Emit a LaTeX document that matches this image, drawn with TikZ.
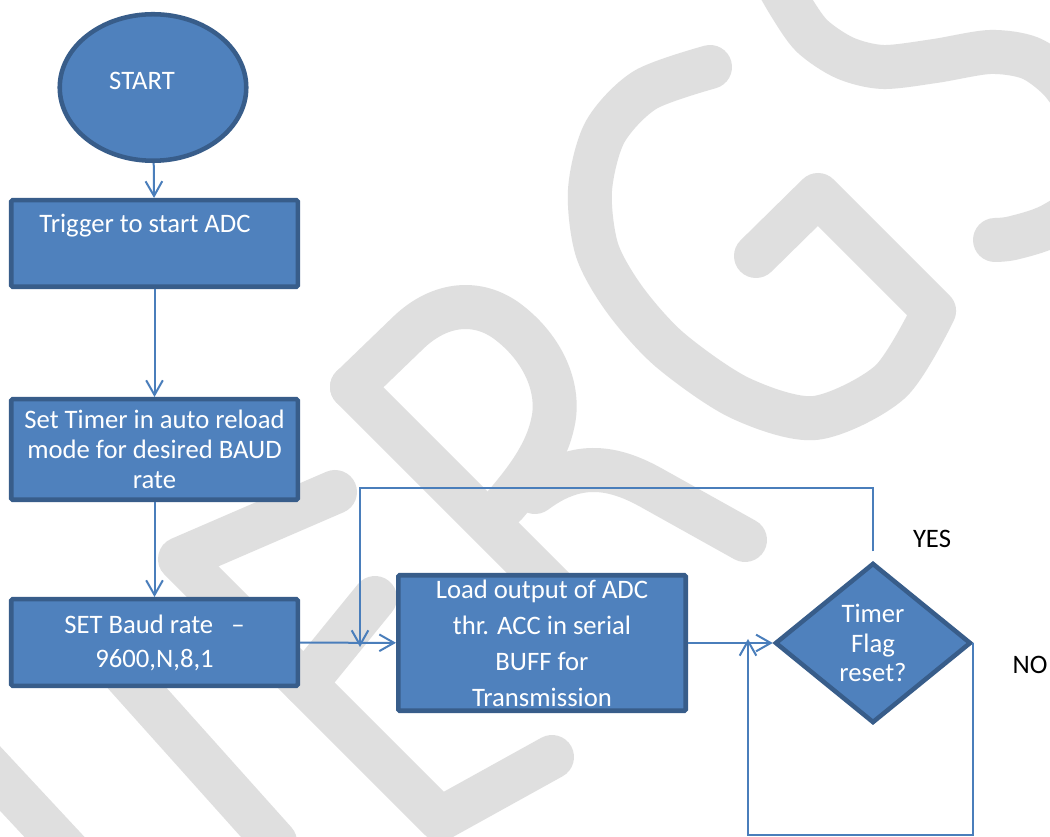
\documentclass[tikz,border=0pt]{standalone}
\usepackage{fontspec}
\setmainfont{Carlito}
\usepackage{tikz}
\usetikzlibrary{arrows.meta,shapes.geometric}
\definecolor{offill}{RGB}{79,129,189}
\definecolor{ofborder}{RGB}{56,93,138}
\definecolor{ofline}{RGB}{74,126,187}
\definecolor{wmgray}{RGB}{223,223,223}

\begin{document}
\begin{tikzpicture}[
    x=0.75pt, y=-0.75pt,
    term/.style={ellipse, draw=ofborder, fill=offill, line width=3.4pt,
                 minimum width=139.9pt, minimum height=109.9pt, inner sep=0pt},
    box/.style={rectangle, draw=ofborder, fill=offill, line width=3.4pt,
                rounded corners=1pt, minimum width=214.9pt, inner sep=2pt,
                align=center, text=white, font=\fontsize{20}{22.5}\selectfont},
    test/.style={diamond, draw=ofborder, fill=offill, line width=3.4pt,
                 minimum width=147pt, minimum height=120pt, aspect=1.2,
                 inner sep=0pt, align=center, text=white,
                 font=\fontsize{20}{22}\selectfont},
    lbl/.style={anchor=base, inner sep=0pt, font=\fontsize{20}{22.5}\selectfont},
    arrow/.style={-{Straight Barb[length=11pt,width=12.5pt]}, line width=1.5pt, draw=ofline},
    wm/.style={draw=wmgray, line width=33pt, line cap=round, line join=round}
]
\useasboundingbox (0,0) rectangle (1050,837);
\fill[white] (0,0) rectangle (1050,837);
\begin{scope}
\clip (0,0) rectangle (1050,837);
\draw[wm] (-20,757) -- (75,859);
\draw[wm] (95,641) -- (275,842);
\draw[wm] (335,492) -- (180,559) -- (440,819) -- (552,757);
\draw[wm] (305,684) -- (375,598);
\draw[wm] (352,387) -- (650,685);
\draw[wm] (352,387) -- (408,333) .. controls (440,302) and (480,298) .. (512,325)
    .. controls (545,352) and (560,390) .. (553,422)
    .. controls (547,452) and (528,478) .. (505,505);
\draw[wm] (535,492) .. controls (575,462) and (610,465) .. (650,487) -- (745,540);
\draw[wm] plot[smooth] coordinates {(710,67) (645,90) (605,132) (590,190) (597,250)
    (625,300) (670,350) (740,398) (815,418) (890,382) (934,311)}
    -- (818,195) -- (756,256);
\draw[wm] plot[smooth] coordinates {(770,-30) (790,5) (812,36) (845,58) (883,67)
    (935,61) (990,52) (1030,58) (1060,80) (1085,115)};
\draw[wm] plot[smooth] coordinates {(1100,195) (1050,226) (1013,238) (995,240)};
\end{scope}

\node[term] (start) at (153,87.5) {};
\node[lbl, text=white] (starttxt) at (142,90) {START};
\node[box, minimum height=64.9pt] (trig) at (154.5,243.5) {};
\node[lbl, text=white] (trigtxt) at (145,233) {Trigger to start ADC};
\node[box, minimum height=75.4pt] (timer) at (154.5,449.5)
    {Set Timer in auto reload\\mode for desired BAUD\\rate};
\node[box, minimum height=64.9pt, font=\fontsize{20}{25.5}\selectfont] (baud) at (154.5,642.5)
    {SET Baud rate\ \ \ \textendash\\9600,N,8,1};
\node[box, minimum width=215.6pt, minimum height=101.6pt,
      font=\fontsize{20}{27}\selectfont] (load) at (542,643)
    {Load output of ADC\\thr. ACC in serial\\BUFF for\\Transmission};
\node[test] (flag) at (873,643) {Timer\\Flag\\reset?};
\node[lbl] (yes) at (932,548) {YES};
\node[lbl] (no) at (1030,673) {NO};
\coordinate (merge) at (360,647);
\coordinate (noin) at (748,639);

\draw[arrow] (start) -- (trig);
\draw[arrow] (trig) -- (timer);
\draw[arrow] (timer) -- (baud);
\draw[arrow] (baud) -- (load);
\draw[arrow] (load) -- (flag);
\draw[arrow] ([yshift=7pt]flag.north) -- ++(0,-63) -| (merge);
\draw[arrow] (flag.east) -- ++(0,192) -| (noin);
\end{tikzpicture}
\end{document}
